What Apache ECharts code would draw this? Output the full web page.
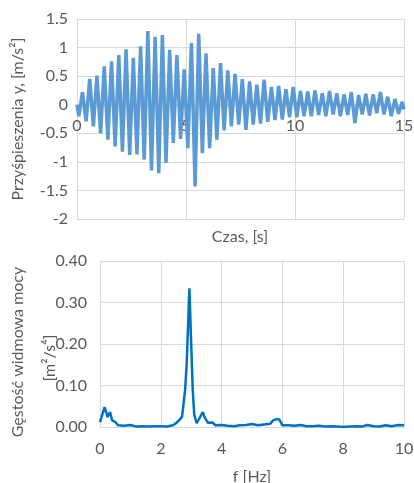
<!DOCTYPE html>
<html>
<head>
<meta charset="utf-8">
<script src="https://cdn.jsdelivr.net/npm/echarts@6/dist/echarts.min.js"></script>
<style>
html, body { margin: 0; padding: 0; background: #fff; }
#chart { width: 414px; height: 483px; }
</style>
</head>
<body>
<div id="chart"></div>
<script>
// przyspieszenia: dolki i szczyty kolejnych polokresow (~3 Hz)
var accStep = 1 / 6;      // s, pol okresu
var accStart = 1 / 12;    // s, pierwszy dolek
var accTroughs = [-0.20, -0.29, -0.38, -0.50, -0.61, -0.73, -0.82, -0.88, -0.87, -0.96,
                  -1.15, -1.20, -1.02, -0.67, -0.60, -0.76, -1.43, -0.85, -0.76, -0.61,
                  -0.45, -0.38, -0.35, -0.44, -0.35, -0.33, -0.30, -0.27, -0.26, -0.22,
                  -0.22, -0.20, -0.20, -0.18, -0.20, -0.17, -0.20, -0.18, -0.32, -0.17,
                  -0.19, -0.15, -0.17, -0.20, -0.16];
var accPeaks = [0.22, 0.45, 0.51, 0.67, 0.76, 0.87, 0.97, 0.82, 1.02, 1.29,
                1.19, 1.22, 0.96, 0.87, 0.62, 1.08, 1.24, 0.90, 0.64, 0.73,
                0.60, 0.54, 0.45, 0.41, 0.35, 0.44, 0.31, 0.33, 0.27, 0.31,
                0.24, 0.23, 0.25, 0.20, 0.24, 0.20, 0.18, 0.22, 0.17, 0.19,
                0.18, 0.22, 0.14, 0.10, 0.05];
var accEnd = -0.08;

// gestosc widmowa mocy
var psdFreq = [0, 0.05, 0.15, 0.25, 0.33, 0.4, 0.5, 0.6, 0.8, 1.0,
               1.2, 1.4, 1.6, 1.8, 2.0, 2.2, 2.4, 2.5, 2.6, 2.7,
               2.8, 2.85, 2.9, 2.94, 3.0, 3.05, 3.1, 3.18, 3.3, 3.38,
               3.45, 3.55, 3.7, 3.8, 4.0, 4.2, 4.4, 4.6, 4.8, 5.0,
               5.2, 5.4, 5.6, 5.7, 5.8, 5.9, 6.0, 6.2, 6.4, 6.6,
               6.8, 7.0, 7.2, 7.4, 7.6, 7.8, 8.0, 8.2, 8.4, 8.6,
               8.8, 9.0, 9.2, 9.4, 9.6, 9.8, 10.0];
var psdValue = [0.012, 0.015, 0.048, 0.024, 0.036, 0.016, 0.012, 0.004, 0.003, 0.005,
                0.001, 0.002, 0.001, 0.002, 0.002, 0.001, 0.004, 0.009, 0.016, 0.025,
                0.09, 0.15, 0.25, 0.334, 0.20, 0.09, 0.03, 0.009, 0.025, 0.036,
                0.022, 0.010, 0.011, 0.004, 0.005, 0.003, 0.002, 0.004, 0.005, 0.007,
                0.004, 0.006, 0.008, 0.016, 0.019, 0.018, 0.004, 0.004, 0.003, 0.005,
                0.002, 0.002, 0.003, 0.001, 0.002, 0.001, 0.000, 0.001, 0.002, 0.001,
                0.005, 0.002, 0.001, 0.004, 0.002, 0.005, 0.004];

var accData = [[0, 0]];
for (var k = 0; k < accPeaks.length; k++) {
    accData.push([accStart + 2 * k * accStep, accTroughs[k]]);
    accData.push([accStart + (2 * k + 1) * accStep, accPeaks[k]]);
}
accData.push([15, accEnd]);

var psdData = psdFreq.map(function (f, i) { return [f, psdValue[i]]; });

var txt = '#595959';
var gridCol = '#d9d9d9';
var font = 'Lato, "Noto Sans", sans-serif';

var chart = echarts.init(document.getElementById('chart'));
chart.setOption({
    animation: false,
    textStyle: { fontFamily: font },
    grid: [
        { left: 77, top: 19, right: 10, height: 200, outerBoundsMode: 'none' },
        { left: 100, top: 261, right: 10, height: 166, outerBoundsMode: 'none' }
    ],
    xAxis: [
        {
            // os czasu przesunieta na poziom zera (200 px wys., zero 114 px nad dolem)
            gridIndex: 0, type: 'value', min: 0, max: 15, interval: 5,
            position: 'bottom', offset: -114,
            axisLine: { onZero: false, lineStyle: { color: gridCol } },
            axisTick: { show: false },
            axisLabel: { color: txt, fontSize: 16, margin: 13 },
            splitLine: { lineStyle: { color: gridCol } }
        },
        {
            gridIndex: 1, type: 'value', min: 0, max: 10, interval: 2,
            axisLine: { lineStyle: { color: gridCol } },
            axisTick: { show: false },
            axisLabel: { color: txt, fontSize: 16, margin: 14 },
            splitLine: { lineStyle: { color: gridCol } }
        }
    ],
    yAxis: [
        {
            gridIndex: 0, type: 'value', min: -2, max: 1.5, interval: 0.5,
            axisLine: { show: true, onZero: false, lineStyle: { color: gridCol } },
            axisTick: { show: false },
            axisLabel: { color: txt, fontSize: 16, margin: 9 },
            splitLine: { lineStyle: { color: gridCol } }
        },
        {
            gridIndex: 1, type: 'value', min: 0, max: 0.4, interval: 0.1,
            axisLine: { show: true, lineStyle: { color: gridCol } },
            axisTick: { show: false },
            axisLabel: { color: txt, fontSize: 16, margin: 13,
                formatter: function (v) { return v.toFixed(2); } },
            splitLine: { lineStyle: { color: gridCol } }
        }
    ],
    graphic: [
        { type: 'text', x: 240, y: 237,
          style: { text: 'Czas, [s]', fill: txt, font: '16px ' + font, align: 'center', verticalAlign: 'middle' } },
        { type: 'text', x: 18, y: 119, rotation: Math.PI / 2,
          style: { text: 'Przyśpieszenia y, [m/s²]', fill: txt, font: '16px ' + font, align: 'center', verticalAlign: 'middle' } },
        { type: 'text', x: 252, y: 477,
          style: { text: 'f [Hz]', fill: txt, font: '16px ' + font, align: 'center', verticalAlign: 'middle' } },
        { type: 'text', x: 18, y: 352, rotation: Math.PI / 2,
          style: { text: 'Gęstość widmowa mocy', fill: txt, font: '16px ' + font, align: 'center', verticalAlign: 'middle' } },
        { type: 'text', x: 50, y: 358, rotation: Math.PI / 2,
          style: { text: '[m²/s⁴]', fill: txt, font: '16px ' + font, align: 'center', verticalAlign: 'middle' } }
    ],
    series: [
        {
            name: 'Przyśpieszenia', type: 'line', xAxisIndex: 0, yAxisIndex: 0,
            data: accData, showSymbol: false, symbol: 'none',
            lineStyle: { color: '#5b9bd5', width: 3.5 }
        },
        {
            name: 'PSD', type: 'line', xAxisIndex: 1, yAxisIndex: 1,
            data: psdData, showSymbol: false, symbol: 'none',
            lineStyle: { color: '#0070c0', width: 2.5 }
        }
    ]
});
</script>
</body>
</html>
